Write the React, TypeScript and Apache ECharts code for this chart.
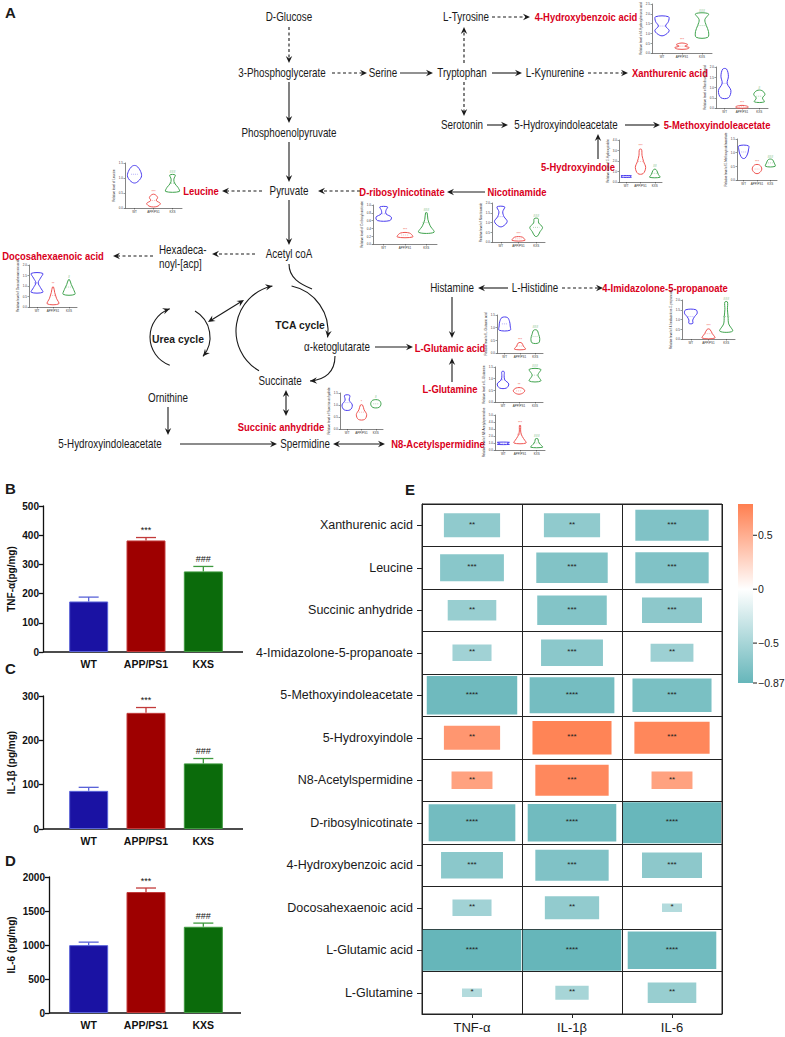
import React, { useEffect, useRef } from "react";
import * as echarts from "echarts";

// ---------- Panels B–D data ----------
const groups = ["WT", "APP/PS1", "KXS"];
const tnfMean = [173, 382, 276];
const tnfSem = [15, 10, 17];
const il1bMean = [86, 262, 148];
const il1bSem = [8, 12, 11];
const il6Mean = [998, 1779, 1268];
const il6Sem = [44, 59, 54];
const barMarks = ["", "***", "###"];

// ---------- Panel E data ----------
const metabolites = [
  "Xanthurenic acid", "Leucine", "Succinic anhydride", "4-Imidazolone-5-propanoate",
  "5-Methoxyindoleacetate", "5-Hydroxyindole", "N8-Acetylspermidine", "D-ribosylnicotinate",
  "4-Hydroxybenzoic acid", "Docosahexaenoic acid", "L-Glutamic acid", "L-Glutamine",
];
const cytokines = ["TNF-α", "IL-1β", "IL-6"];
const rTNF = [-0.64, -0.68, -0.6, -0.55, -0.82, 0.64, 0.56, -0.8, -0.67, -0.55, -0.87, -0.45];
const rIL1B = [-0.64, -0.72, -0.71, -0.67, -0.79, 0.76, 0.73, -0.81, -0.73, -0.63, -0.87, -0.52];
const rIL6 = [-0.73, -0.73, -0.66, -0.57, -0.76, 0.74, 0.56, -0.86, -0.66, -0.45, -0.81, -0.6];
const pTNF = ["**", "***", "**", "**", "****", "**", "**", "****", "***", "**", "****", "*"];
const pIL1B = ["**", "***", "***", "***", "****", "***", "***", "****", "***", "**", "****", "**"];
const pIL6 = ["***", "***", "***", "**", "***", "***", "**", "****", "***", "*", "****", "**"];
const colorbarTicks = [0.5, 0, -0.5, -0.87];
const rMin = -0.87;
const rMax = 0.79;
const sizeFloor = 0.345; // |r| at which a square shrinks to nothing

// ---------- Panel A mini violin data ----------
const violinTitles = [
  "4-Hydroxybenzoic acid", "Xanthurenic acid", "5-Hydroxyindole", "5-Methoxyindoleacetate",
  "Leucine", "D-ribosylnicotinate", "Nicotinamide", "Docosahexaenoic acid",
  "4-Imidazolone-5-propanoate", "L-Glutamic acid", "L-Glutamine", "N8-Acetylspermidine", "Succinic anhydride",
];
const violinYMax = [2.5, 2.0, 4, 1.5, 1.5, 1.0, 2.0, 2.0, 2.0, 1.5, 1.5, 5, 1.5];
const violinYStep = [0.5, 0.5, 1, 0.5, 0.5, 0.2, 0.5, 0.5, 0.5, 0.5, 0.5, 1, 0.5];
// [low, high, [relative widths bottom→top]]
const violinWT: any[] = [
  [0.9, 1.85, [0.3, 1.0, 0.5, 0.9, 0.9]], [0.5, 1.9, [0.6, 1.0, 0.4, 0.6, 0.3]], [0.45, 0.6, [1, 0.8, 1]],
  [0.8, 1.25, [0.3, 0.8, 1, 1]], [0.85, 1.4, [0.3, 1, 0.9, 0.3]], [0.6, 0.95, [0.8, 1, 0.3, 0.3, 0.5]],
  [0.8, 1.8, [0.3, 1, 0.5, 0.3, 0.6]], [0.7, 1.6, [1, 0.6, 0.2, 0.6, 1]], [0.8, 1.5, [0.3, 0.3, 0.6, 1, 0.8]],
  [0.9, 1.4, [1, 1, 0.9, 0.5]], [0.6, 1.3, [0.6, 1, 0.3, 0.2, 0.2]], [0.8, 1.1, [1, 0.6, 1]], [0.8, 1.4, [0.6, 1, 0.4, 0.5]],
];
const violinAPP: any[] = [
  [0.2, 0.5, [0.6, 1, 0.4, 0.8, 0.3]], [0.0, 0.12, [0.8, 1, 0.4]], [0.8, 3.1, [0.5, 1, 0.6, 0.3, 0.2]],
  [0.25, 0.55, [0.4, 1, 0.5]], [0.05, 0.45, [0.5, 1, 0.4, 0.6, 0.2]], [0.18, 0.28, [1, 0.6]],
  [0.08, 0.25, [1, 0.6]], [0.15, 0.95, [1, 0.6, 0.3, 0.1]], [0.05, 0.5, [1, 0.6, 0.2]],
  [0.15, 0.4, [1, 0.6, 0.3]], [0.35, 0.6, [0.4, 1, 0.5]], [1.0, 3.5, [1, 0.6, 0.2, 0.1, 0.1]], [0.4, 1.0, [0.6, 1, 0.5, 0.2]],
];
const violinKXS: any[] = [
  [0.8, 2.0, [0.8, 0.9, 0.6, 0.4, 0.9]], [0.3, 0.85, [0.8, 0.5, 0.9, 0.4]], [0.45, 1.2, [1, 0.7, 0.5, 0.2]],
  [0.5, 0.75, [1, 0.8, 0.4]], [0.55, 1.1, [1, 0.8, 0.3, 0.2, 0.4]], [0.3, 0.8, [1, 0.5, 0.2, 0.1]],
  [0.3, 1.2, [0.2, 0.6, 1, 0.4, 0.3]], [0.6, 1.3, [1, 0.8, 0.4, 0.1]], [0.4, 1.9, [1, 0.4, 0.3, 0.2, 0.2]],
  [0.4, 0.9, [0.6, 0.8, 0.6, 0.3]], [0.9, 1.4, [1, 0.5, 1]], [0.4, 1.6, [1, 0.6, 0.3, 0.2]], [0.9, 1.2, [0.6, 1, 0.6]],
];
const violinMarkAPP = ["***", "***", "***", "***", "***", "***", "***", "**", "***", "***", "**", "***", "*"];
const violinMarkKXS = ["###", "#", "##", "###", "###", "###", "###", "#", "###", "###", "###", "###", "#"];

// ---------- layout (pixels) ----------
const violinBoxes = [
  [652, 4, 712, 53], [716, 67, 768, 108], [619, 140, 662, 182], [737, 139, 777, 180],
  [125, 163, 182, 208], [373, 205, 437, 244], [492, 203, 545, 242], [29, 265, 77, 307],
  [682, 300, 735, 339], [497, 315, 543, 353], [495, 367, 543, 402], [495, 415, 545, 450], [340, 393, 383, 429],
];

const SANS = "'Liberation Sans', Arial, sans-serif";
const INK = "#1a1a1a";
const RED = "#d9001b";
const barColors = ["#1a12a3", "#9e0000", "#0b6b0b"];
const barBorders = ["#5a63d8", "#c23a3a", "#3f9a3f"];
const violinColors = ["#4a3df0", "#ef5350", "#3fa34d"];

function txt(text: string, x: number, y: number, o: any = {}) {
  const narrow = o.sx !== undefined ? o.sx : 0.82;
  return {
    type: "text", x, y, silent: true, scaleX: narrow,
    style: {
      text, fill: o.red ? RED : INK, fontSize: o.size || (o.red ? 11.5 : 12),
      fontWeight: o.bold || o.red ? "bold" : "normal", fontFamily: SANS,
      align: o.align || "center", verticalAlign: "middle",
    },
  };
}
function head(x: number, y: number, ang: number) {
  const L = 7, W = 3.2;
  const dx = Math.cos(ang), dy = Math.sin(ang);
  const px = -dy, py = dx;
  const bx = x - dx * L, by = y - dy * L;
  const nx = x - dx * L * 0.65, ny = y - dy * L * 0.65;
  return {
    type: "polygon", silent: true,
    shape: { points: [[x, y], [bx + px * W, by + py * W], [nx, ny], [bx - px * W, by - py * W]] },
    style: { fill: INK },
  };
}
function arrow(x1: number, y1: number, x2: number, y2: number, o: any = {}) {
  const ang = Math.atan2(y2 - y1, x2 - x1);
  const ex = x2 - Math.cos(ang) * 4, ey = y2 - Math.sin(ang) * 4;
  const sx = o.both ? x1 + Math.cos(ang) * 4 : x1, sy = o.both ? y1 + Math.sin(ang) * 4 : y1;
  const els: any[] = [{
    type: "line", silent: true, shape: { x1: sx, y1: sy, x2: ex, y2: ey },
    style: { stroke: o.gray ? "#777" : INK, lineWidth: o.gray ? 1.6 : 1.1, lineDash: o.dash ? [3, 2.5] : null },
  }];
  els.push(head(x2, y2, ang));
  if (o.both) els.push(head(x1, y1, ang + Math.PI));
  return els;
}
function arcArrow(cx: number, cy: number, r: number, a0d: number, a1d: number, withHead = true) {
  const a0 = (a0d * Math.PI) / 180, a1 = (a1d * Math.PI) / 180;
  const cw = a1 > a0;
  const els: any[] = [{
    type: "arc", silent: true,
    shape: { cx, cy, r, startAngle: a0, endAngle: a1, clockwise: cw },
    style: { stroke: INK, lineWidth: 1.1, fill: null },
  }];
  if (withHead) {
    const ex = cx + r * Math.cos(a1), ey = cy + r * Math.sin(a1);
    els.push(head(ex, ey, cw ? a1 + Math.PI / 2 : a1 - Math.PI / 2));
  }
  return els;
}
function curveArrow(x1: number, y1: number, c1x: number, c1y: number, c2x: number, c2y: number, x2: number, y2: number, withHead = true) {
  const els: any[] = [{
    type: "bezierCurve", silent: true,
    shape: { x1, y1, cpx1: c1x, cpy1: c1y, cpx2: c2x, cpy2: c2y, x2, y2 },
    style: { stroke: INK, lineWidth: 1.1, fill: null },
  }];
  if (withHead) els.push(head(x2, y2, Math.atan2(y2 - c2y, x2 - c2x)));
  return els;
}

function diagram() {
  const e: any[] = [];
  e.push(txt("A", 5, 12, { bold: true, size: 15, align: "left", sx: 1 }));
  e.push(txt("D-Glucose", 289, 17));
  e.push(txt("3-Phosphoglycerate", 282, 73));
  e.push(txt("Serine", 383, 73));
  e.push(txt("Tryptophan", 462, 73));
  e.push(txt("L-Kynurenine", 555, 73));
  e.push(txt("Xanthurenic acid", 670, 73, { red: true }));
  e.push(txt("L-Tyrosine", 466, 17));
  e.push(txt("4-Hydroxybenzoic acid", 586, 17, { red: true }));
  e.push(txt("Serotonin", 462, 125));
  e.push(txt("5-Hydroxyindoleacetate", 566, 125));
  e.push(txt("5-Methoxyindoleacetate", 717, 125, { red: true }));
  e.push(txt("5-Hydroxyindole", 578, 167, { red: true }));
  e.push(txt("Phosphoenolpyruvate", 289, 133));
  e.push(txt("Pyruvate", 289, 191));
  e.push(txt("Leucine", 201, 191, { red: true }));
  e.push(txt("D-ribosylnicotinate", 402, 192, { red: true }));
  e.push(txt("Nicotinamide", 517, 192, { red: true }));
  e.push(txt("Acetyl coA", 289, 254));
  e.push(txt("Hexadeca-", 159, 250, { align: "left" }));
  e.push(txt("noyl-[acp]", 159, 264, { align: "left" }));
  e.push(txt("Docosahexaenoic acid", 53, 256, { red: true }));
  e.push(txt("TCA cycle", 300, 325, { bold: true, size: 11.5, sx: 0.9 }));
  e.push(txt("Urea cycle", 178, 339, { bold: true, size: 11.5, sx: 0.9 }));
  e.push(txt("α-ketoglutarate", 337, 347));
  e.push(txt("L-Glutamic acid", 450, 348, { red: true }));
  e.push(txt("Histamine", 452, 288));
  e.push(txt("L-Histidine", 535, 288));
  e.push(txt("4-Imidazolone-5-propanoate", 665, 288, { red: true }));
  e.push(txt("L-Glutamine", 450, 389, { red: true }));
  e.push(txt("Succinate", 280, 381));
  e.push(txt("Ornithine", 168, 398));
  e.push(txt("Succinic anhydride", 281, 427, { red: true }));
  e.push(txt("5-Hydroxyindoleacetate", 110, 444));
  e.push(txt("Spermidine", 305, 444));
  e.push(txt("N8-Acetylspermidine", 438, 444, { red: true }));

  e.push(...arrow(289, 27, 289, 63, { dash: true }));
  e.push(...arrow(289, 82, 289, 123));
  e.push(...arrow(289, 142, 289, 182));
  e.push(...arrow(289, 200, 289, 245));
  e.push(...arrow(332, 73, 367, 73, { dash: true }));
  e.push(...arrow(400, 73, 433, 73, { gray: true }));
  e.push(...arrow(492, 73, 522, 73));
  e.push(...arrow(588, 73, 628, 73, { dash: true }));
  e.push(...arrow(464, 63, 464, 27, { dash: true }));
  e.push(...arrow(492, 17, 530, 17, { dash: true }));
  e.push(...arrow(464, 82, 464, 116, { dash: true }));
  e.push(...arrow(487, 125, 508, 125));
  e.push(...arrow(625, 125, 660, 125));
  e.push(...arrow(598, 159, 598, 134));
  e.push(...arrow(262, 191, 222, 191, { dash: true }));
  e.push(...arrow(360, 191, 318, 191, { dash: true }));
  e.push(...arrow(485, 192, 447, 192));
  e.push(...arrow(255, 254, 212, 254, { dash: true }));
  e.push(...arrow(153, 256, 113, 256, { dash: true }));
  e.push(...arrow(375, 347, 413, 347));
  e.push(...arrow(452, 297, 452, 338));
  e.push(...arrow(452, 382, 452, 358));
  e.push(...arrow(508, 288, 478, 288));
  e.push(...arrow(562, 288, 603, 288, { dash: true }));
  e.push(...arrow(286, 390, 286, 416, { both: true }));
  e.push(...arrow(168, 407, 168, 435));
  e.push(...arrow(180, 444, 277, 444));
  e.push(...arrow(333, 444, 385, 444, { both: true }));

  // TCA cycle
  e.push(...arcArrow(282, 331, 46, 120, 258));
  e.push(...arcArrow(282, 331, 46, 282, 368));
  e.push(...curveArrow(335, 356, 335, 372, 325, 380, 310, 381));
  e.push(...curveArrow(289, 264, 289, 278, 300, 284, 312, 289, false));
  // Urea cycle
  e.push(...arcArrow(180, 337, 30, 110, 250));
  e.push(...arcArrow(180, 337, 30, -60, 40));
  e.push(...arrow(208, 322, 244, 300, { both: true }));
  return e;
}

function colorbar() {
  const x = 738, y0 = 504, y1 = 683, w = 15;
  const zeroPos = rMax / (rMax - rMin);
  const els: any[] = [{
    type: "rect", silent: true, shape: { x, y: y0, width: w, height: y1 - y0 },
    style: {
      fill: new echarts.graphic.LinearGradient(0, 0, 0, 1, [
        { offset: 0, color: "#ff7f50" }, { offset: zeroPos, color: "#ffffff" }, { offset: 1, color: "#66b6ba" },
      ]),
    },
  }];
  colorbarTicks.forEach((t) => {
    const yy = y0 + ((rMax - t) / (rMax - rMin)) * (y1 - y0);
    els.push({ type: "line", silent: true, shape: { x1: x + w, y1: yy, x2: x + w + 4, y2: yy }, style: { stroke: INK, lineWidth: 1 } });
    els.push(txt(t === 0 ? "0" : String(t).replace("-", "−"), x + w + 5, yy, { align: "left", size: 10.5, sx: 1 }));
  });
  return els;
}

function buildOption() {
  const grid: any[] = [], xAxis: any[] = [], yAxis: any[] = [], series: any[] = [];

  // ----- bar panels B, C, D -----
  const panels = [
    { mean: tnfMean, sem: tnfSem, name: "TNF-α(pg/mg)", max: 500, step: 100, top: 506, bottom: 652, axisX: 43, endX: 243 },
    { mean: il1bMean, sem: il1bSem, name: "IL-1β (pg/mg)", max: 300, step: 100, top: 696, bottom: 829, axisX: 43, endX: 243 },
    { mean: il6Mean, sem: il6Sem, name: "IL-6 (pg/mg)", max: 2000, step: 500, top: 877, bottom: 1013, axisX: 49, endX: 241 },
  ];
  const axisLines: any[] = [];
  panels.forEach((p, i) => {
    grid.push({ left: 60, top: p.top, width: 172, height: p.bottom - p.top });
    xAxis.push({
      type: "category", gridIndex: i, data: groups,
      axisLine: { show: false }, axisTick: { show: false },
      axisLabel: { color: "#111", fontWeight: "bold", fontSize: 10.5, fontFamily: SANS, margin: 6, interval: 0, hideOverlap: false },
    });
    yAxis.push({
      type: "value", gridIndex: i, min: 0, max: p.max, interval: p.step, offset: 60 - p.axisX,
      name: p.name, nameLocation: "middle", nameGap: p.axisX - 16, nameRotate: 90,
      nameTextStyle: { color: "#111", fontWeight: "bold", fontSize: 10, fontFamily: SANS },
      axisLine: { show: true, lineStyle: { color: "#111", width: 1.3 } },
      axisTick: { show: true, length: 4, lineStyle: { color: "#111", width: 1.3 } },
      axisLabel: { color: "#111", fontWeight: "bold", fontSize: 10, fontFamily: SANS, margin: 4, formatter: (v: number) => String(v) },
      splitLine: { show: false },
    });
    axisLines.push({
      type: "line", silent: true, shape: { x1: p.axisX, y1: p.bottom, x2: p.endX, y2: p.bottom },
      style: { stroke: "#111", lineWidth: 1.3 },
    });
    series.push({
      type: "bar", xAxisIndex: i, yAxisIndex: i, barWidth: "68%",
      data: p.mean.map((v, k) => ({ value: v, itemStyle: { color: barColors[k], borderColor: barBorders[k], borderWidth: 1 } })),
    });
    series.push({
      type: "custom", xAxisIndex: i, yAxisIndex: i,
      data: p.mean.map((v, k) => [k, v, v + p.sem[k]]),
      renderItem: (params: any, api: any) => {
        const k = api.value(0);
        const a = api.coord([k, api.value(1)]);
        const b = api.coord([k, api.value(2)]);
        const col = barBorders[k];
        return {
          type: "group",
          children: [
            { type: "line", shape: { x1: a[0], y1: a[1], x2: b[0], y2: b[1] }, style: { stroke: col, lineWidth: 1.3 } },
            { type: "line", shape: { x1: b[0] - 10, y1: b[1], x2: b[0] + 10, y2: b[1] }, style: { stroke: col, lineWidth: 1.3 } },
            {
              type: "text", x: b[0], y: b[1] - 3,
              style: { text: barMarks[k], fill: "#111", fontSize: 9, fontFamily: SANS, align: "center", verticalAlign: "bottom" },
            },
          ],
        };
      },
      z: 3,
    });
  });

  // ----- heatmap E -----
  const hi = grid.length;
  grid.push({ left: 422, top: 504, width: 300, height: 510, show: true, borderColor: "#222", borderWidth: 1 });
  xAxis.push({
    type: "category", gridIndex: hi, data: cytokines, position: "bottom",
    axisLine: { show: true, lineStyle: { color: "#222", width: 1 } },
    axisTick: { show: true, alignWithLabel: true, length: 4, lineStyle: { color: "#222" } },
    axisLabel: { color: "#1a1a1a", fontSize: 13, fontFamily: SANS, margin: 7 },
    splitLine: { show: true, lineStyle: { color: "#222", width: 1 } },
  });
  yAxis.push({
    type: "category", gridIndex: hi, data: metabolites, inverse: true,
    axisLine: { show: true, lineStyle: { color: "#222", width: 1 } },
    axisTick: { show: true, alignWithLabel: true, length: 5, lineStyle: { color: "#222" } },
    axisLabel: { color: "#1a1a1a", fontSize: 12.5, fontFamily: SANS, margin: 9 },
    splitLine: { show: true, lineStyle: { color: "#222", width: 1 } },
  });
  const rCols = [rTNF, rIL1B, rIL6];
  const pCols = [pTNF, pIL1B, pIL6];
  const cells: any[] = [];
  rCols.forEach((col, c) => col.forEach((r, m) => cells.push([c, m, r])));
  const heatSeriesIndex = series.length;
  series.push({
    type: "custom", xAxisIndex: hi, yAxisIndex: hi, data: cells,
    encode: { x: 0, y: 1 },
    renderItem: (params: any, api: any) => {
      const c = api.value(0), m = api.value(1), r = api.value(2);
      const pt = api.coord([c, m]);
      const size = api.size([1, 1]);
      const f = Math.max(0.05, (Math.abs(r) - sizeFloor) / (Math.abs(rMin) - sizeFloor));
      const w = Math.min(size[0] * f, size[0] - 1.5), h = Math.min(size[1] * f, size[1] - 1.5);
      return {
        type: "group",
        children: [
          { type: "rect", shape: { x: pt[0] - w / 2, y: pt[1] - h / 2, width: w, height: h }, style: { fill: api.visual("color") } },
          {
            type: "text", x: pt[0], y: pt[1] - 1,
            style: { text: pCols[c][m], fill: "#222", fontSize: 8, fontFamily: SANS, align: "center", verticalAlign: "middle" },
          },
        ],
      };
    },
  });

  // ----- violin mini plots -----
  violinTitles.forEach((title, i) => {
    const gi = grid.length;
    const [x0, y0, x1, y1] = violinBoxes[i];
    grid.push({ left: x0, top: y0, width: x1 - x0, height: y1 - y0 });
    xAxis.push({
      type: "category", gridIndex: gi, data: groups,
      axisLine: { lineStyle: { color: "#333", width: 0.6 } },
      axisTick: { show: true, length: 1.5, alignWithLabel: true, lineStyle: { color: "#333", width: 0.5 } },
      axisLabel: { fontSize: 3, color: "#333", margin: 2.5, interval: 0, fontFamily: SANS },
    });
    yAxis.push({
      type: "value", gridIndex: gi, min: 0, max: violinYMax[i], interval: violinYStep[i],
      name: "Relative level of " + title, nameLocation: "middle", nameGap: 8, nameRotate: 90,
      nameTextStyle: { fontSize: 3, color: "#333", fontFamily: SANS },
      axisLine: { show: true, lineStyle: { color: "#333", width: 0.6 } },
      axisTick: { show: true, length: 1.5, lineStyle: { color: "#333", width: 0.5 } },
      axisLabel: { fontSize: 3, color: "#333", margin: 2, fontFamily: SANS, formatter: (v: number) => v.toFixed(1) },
      splitLine: { show: false },
    });
    const vs = [violinWT[i], violinAPP[i], violinKXS[i]];
    const marks = ["", violinMarkAPP[i], violinMarkKXS[i]];
    series.push({
      type: "custom", xAxisIndex: gi, yAxisIndex: gi,
      data: vs.map((v, g) => [g, v[0], v[1]]),
      encode: { x: 0, y: [1, 2] },
      renderItem: (params: any, api: any) => {
        const g = api.value(0), lo = api.value(1), hiV = api.value(2);
        const widths: number[] = vs[g][2];
        const half = api.size([1, 0])[0] * 0.36;
        const n = widths.length;
        const right: number[][] = [], left: number[][] = [];
        for (let k = 0; k < n; k++) {
          const yv = lo + ((hiV - lo) * k) / (n - 1);
          const c = api.coord([g, yv]);
          right.push([c[0] + widths[k] * half, c[1]]);
          left.push([c[0] - widths[k] * half, c[1]]);
        }
        const pts = right.concat(left.reverse());
        const top = api.coord([g, hiV]);
        const mid = api.coord([g, (lo + hiV) / 2]);
        return {
          type: "group",
          children: [
            { type: "polygon", shape: { points: pts, smooth: 0.35 }, style: { fill: "rgba(255,255,255,0)", stroke: violinColors[g], lineWidth: 1 } },
            { type: "line", shape: { x1: mid[0] - half * 0.5, y1: mid[1], x2: mid[0] + half * 0.5, y2: mid[1] }, style: { stroke: violinColors[g], lineWidth: 0.4, lineDash: [1, 1] } },
            { type: "text", x: top[0], y: top[1] - 1, style: { text: marks[g], fill: violinColors[g], fontSize: 3.5, fontFamily: SANS, align: "center", verticalAlign: "bottom" } },
          ],
        };
      },
    });
  });

  const letters = [
    txt("B", 5, 488, { bold: true, size: 15, align: "left", sx: 1 }),
    txt("C", 5, 668, { bold: true, size: 15, align: "left", sx: 1 }),
    txt("D", 5, 860, { bold: true, size: 15, align: "left", sx: 1 }),
    txt("E", 405, 489, { bold: true, size: 15, align: "left", sx: 1 }),
  ];

  return {
    animation: false,
    backgroundColor: "#ffffff",
    grid, xAxis, yAxis, series,
    visualMap: {
      show: false, type: "continuous", min: rMin, max: rMax, dimension: 2, seriesIndex: heatSeriesIndex,
      inRange: { color: ["#66b6ba", "#ffffff", "#ff7f50"] },
    },
    graphic: { elements: [...diagram(), ...colorbar(), ...axisLines, ...letters] },
  };
}

export default function App() {
  const ref = useRef<HTMLDivElement>(null);
  useEffect(() => {
    const chart = echarts.init(ref.current as HTMLDivElement, null, { renderer: "svg" });
    chart.setOption(buildOption() as any);
    return () => chart.dispose();
  }, []);
  return (
    <div
      ref={ref}
      style={{ position: "absolute", left: 0, top: 0, width: 785, height: 1037, background: "#fff" }}
    />
  );
}
